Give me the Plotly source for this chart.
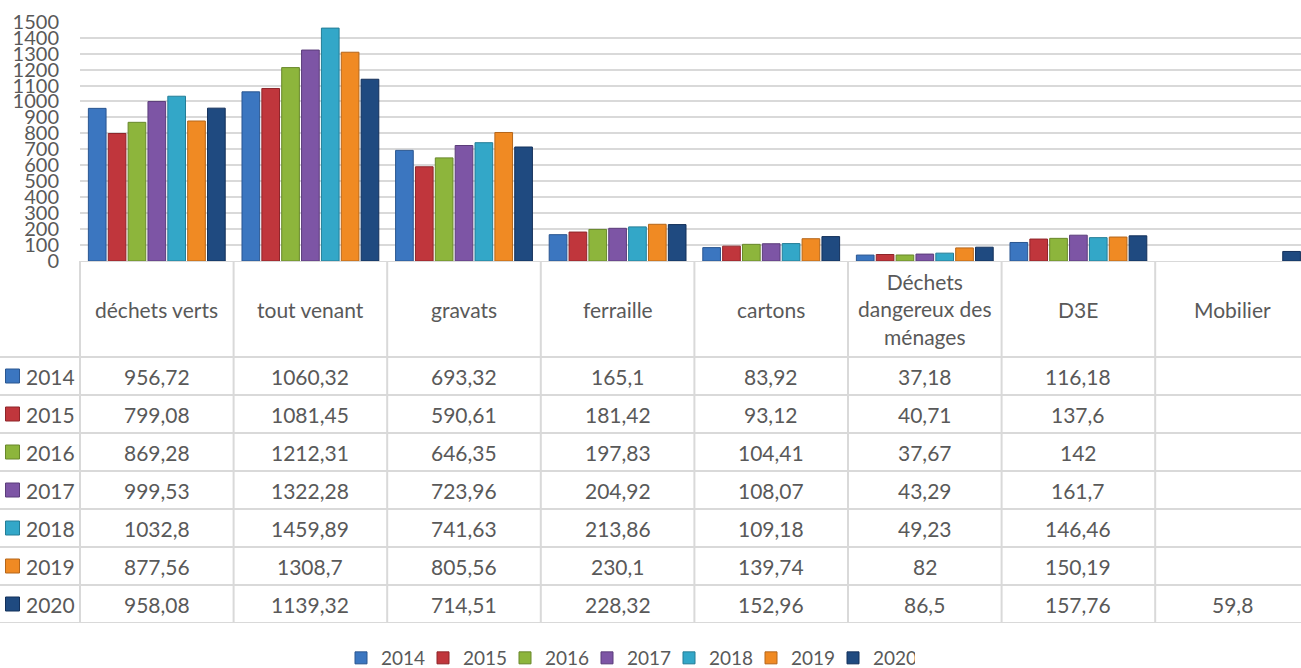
import plotly.graph_objects as go

categories = ["déchets verts", "tout venant", "gravats", "ferraille", "cartons",
              "Déchets dangereux des ménages", "D3E", "Mobilier"]
header_labels = ["déchets verts", "tout venant", "gravats", "ferraille", "cartons",
                 "Déchets<br>dangereux des<br>ménages", "D3E", "Mobilier"]
years = ["2014", "2015", "2016", "2017", "2018", "2019", "2020"]
v2014 = [956.72, 1060.32, 693.32, 165.1, 83.92, 37.18, 116.18, None]
v2015 = [799.08, 1081.45, 590.61, 181.42, 93.12, 40.71, 137.6, None]
v2016 = [869.28, 1212.31, 646.35, 197.83, 104.41, 37.67, 142, None]
v2017 = [999.53, 1322.28, 723.96, 204.92, 108.07, 43.29, 161.7, None]
v2018 = [1032.8, 1459.89, 741.63, 213.86, 109.18, 49.23, 146.46, None]
v2019 = [877.56, 1308.7, 805.56, 230.1, 139.74, 82, 150.19, None]
v2020 = [958.08, 1139.32, 714.51, 228.32, 152.96, 86.5, 157.76, 59.8]
series = [v2014, v2015, v2016, v2017, v2018, v2019, v2020]
y_ticks = list(range(0, 1501, 100))

colors = ["#3b76c0", "#c0363c", "#8db53c", "#7d55a5", "#33a7c8", "#f08a23", "#1f4a80"]
edges = ["#2a5690", "#8e2529", "#68872b", "#5b3d7a", "#247d96", "#b5661a", "#13305a"]

FONT = "Lato, 'Open Sans', sans-serif"
TXT = "#595959"
GRID = "#d9d9d9"

W, H = 1301, 668
L = 80                      # left edge of the bar plot / first table column (px)
top_px, axis_px, bottom_px = 21.7, 261, 623
header_h, row_h = 96, 38
cat_w = 153.6               # px per category
xmax = -0.5 + (W - L) / cat_w
x_range = [-0.5, xmax]
x2_range = [-0.5 - L / cat_w, xmax]   # table axis spans the full width, same scale
xpos = list(range(len(categories)))

def fmt(v):
    if v is None:
        return ""
    s = ("%.2f" % v).rstrip("0").rstrip(".")
    return s.replace(".", ",")

def px_to_x(px):
    return -0.5 + (px - L) / cat_w

fig = go.Figure()
for yr, vals, c, e in zip(years, series, colors, edges):
    fig.add_trace(go.Bar(x=xpos, y=vals, name=yr, customdata=categories,
                         hovertemplate="%{customdata}<br>" + yr + ": %{y}<extra></extra>",
                         marker=dict(color=c, line=dict(color=e, width=1)),
                         xaxis="x", yaxis="y"))

tbl_h = bottom_px - axis_px

annotations = []
for i, lab in enumerate(header_labels):
    annotations.append(dict(x=xpos[i], y=header_h / 2, xref="x2", yref="y2", text=lab,
                            showarrow=False, font=dict(family=FONT, size=21, color=TXT)))
for r, (yr, vals) in enumerate(zip(years, series)):
    yc = header_h + row_h * r + row_h / 2
    annotations.append(dict(x=px_to_x(24), y=yc, xref="x2", yref="y2", text=yr,
                            xanchor="left", showarrow=False,
                            font=dict(family=FONT, size=21, color=TXT)))
    for i, v in enumerate(vals):
        if v is None:
            continue
        annotations.append(dict(x=xpos[i], y=yc, xref="x2", yref="y2", text=fmt(v),
                                showarrow=False, font=dict(family=FONT, size=21, color=TXT)))
    fig.add_trace(go.Scatter(x=[px_to_x(12.5)], y=[yc], mode="markers", xaxis="x2", yaxis="y2",
                             marker=dict(symbol="square", size=14, color=colors[r],
                                         line=dict(color=edges[r], width=1)),
                             showlegend=False, cliponaxis=False, hoverinfo="skip"))

shapes = []
shapes.append(dict(type="line", xref="x2", yref="y2", x0=-0.5, x1=x2_range[1], y0=0, y1=0,
                   line=dict(color=GRID, width=2)))
for r in range(len(years) + 1):
    yy = header_h + row_h * r
    shapes.append(dict(type="line", xref="x2", yref="y2", x0=x2_range[0], x1=x2_range[1],
                       y0=yy, y1=yy, line=dict(color=GRID, width=2)))
for k in xpos:
    shapes.append(dict(type="line", xref="x2", yref="y2", x0=k - 0.5, x1=k - 0.5, y0=0, y1=tbl_h,
                       line=dict(color=GRID, width=2)))

fig.update_layout(
    width=W, height=H,
    margin=dict(l=0, r=0, t=0, b=0, autoexpand=False),
    paper_bgcolor="white", plot_bgcolor="white",
    barmode="group", bargap=0.095, bargroupgap=0.11,
    font=dict(family=FONT, color=TXT),
    xaxis=dict(domain=[L / W, 1], range=x_range, type="linear", showticklabels=False,
               showgrid=False, zeroline=False, showline=False, anchor="y", fixedrange=True),
    yaxis=dict(domain=[(H - axis_px) / H, (H - top_px) / H], range=[0, 1500],
               tickvals=y_ticks, ticktext=[str(t) for t in y_ticks], automargin=False,
               showgrid=True, gridcolor=GRID, gridwidth=1.5, zeroline=False,
               tickfont=dict(family=FONT, size=20, color=TXT), ticks="",
               ticklabelstandoff=20, fixedrange=True),
    xaxis2=dict(domain=[0, 1], range=x2_range, type="linear", showticklabels=False,
                showgrid=False, zeroline=False, showline=False, anchor="y2", fixedrange=True),
    yaxis2=dict(domain=[(H - bottom_px) / H, (H - axis_px) / H], range=[tbl_h, 0],
                showticklabels=False, showgrid=False, zeroline=False, showline=False,
                automargin=False, fixedrange=True),
    legend=dict(orientation="h", x=628 / W, xanchor="center", y=(H - 658) / H,
                yanchor="middle", font=dict(family=FONT, size=19, color=TXT),
                entrywidth=37, itemwidth=30, tracegroupgap=0),
    annotations=annotations, shapes=shapes,
)

fig.write_html("out.html", config={"displayModeBar": False},
               post_script="document.body.style.margin='0';document.body.style.overflow='hidden';")
